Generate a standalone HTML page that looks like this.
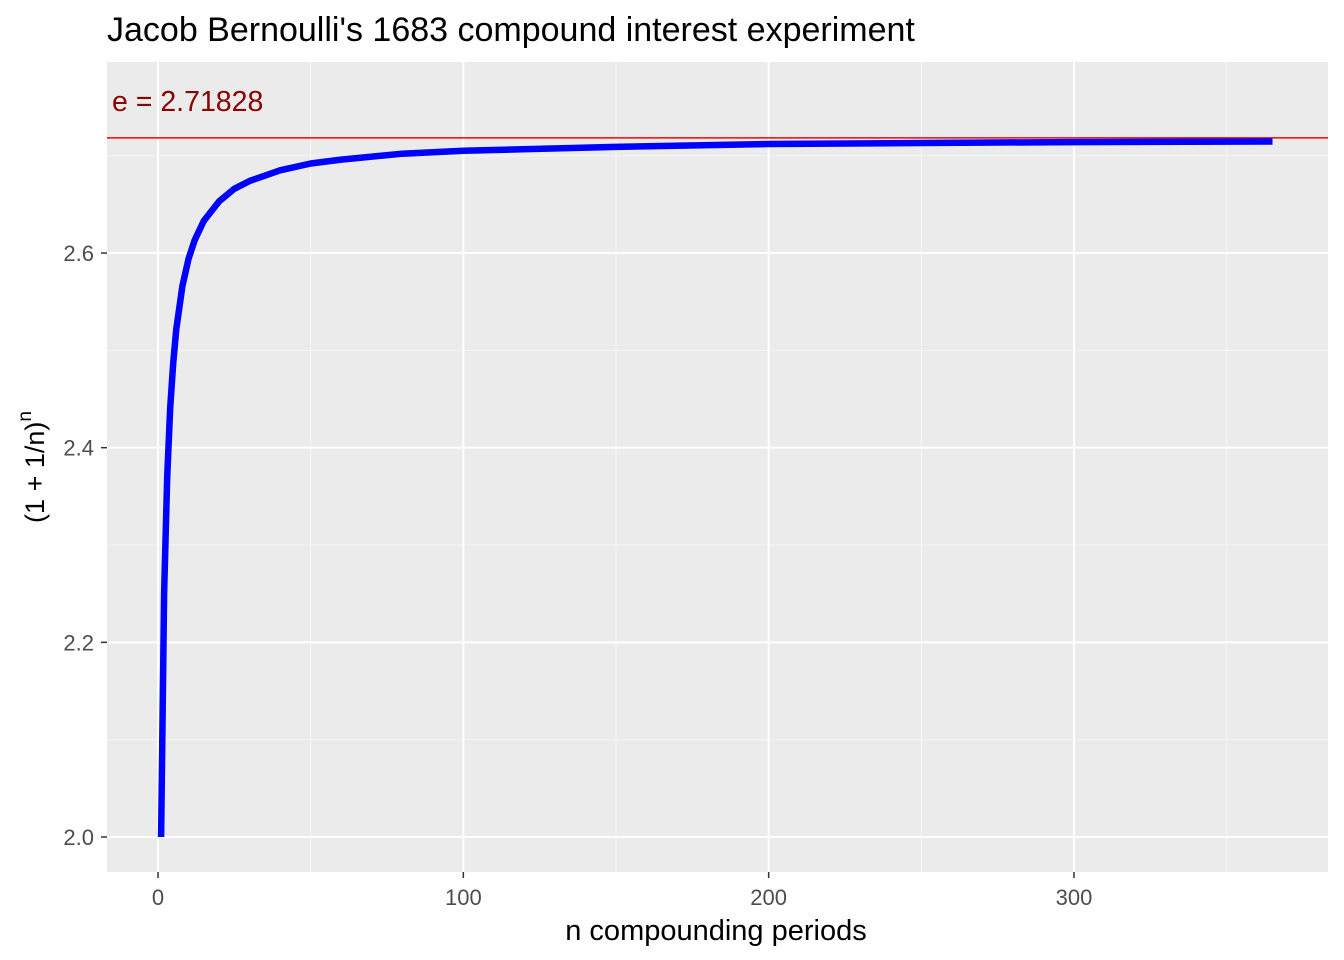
<!DOCTYPE html>
<html><head><meta charset="utf-8"><style>
body{margin:0;background:#fff}
svg{display:block;font-family:"Liberation Sans",Arial,sans-serif}
</style></head><body>
<svg id="chart" width="1344" height="960">
<text x="107" y="41" font-size="34" fill="#000">Jacob Bernoulli's 1683 compound interest experiment</text>
<rect x="107" y="62" width="1221" height="810" fill="#ebebeb"/>
<g id="grid"></g>
<g id="ticks"></g>
<line id="eline" x1="107" x2="1328" stroke="#ff0000" stroke-width="1.5"/>
<text x="112" y="111" font-size="28.5" fill="#8b0000">e = 2.71828</text>
<path id="curve" fill="none" stroke="#0000ff" stroke-width="6.5" stroke-linejoin="round"/>
<text x="716" y="940" font-size="29" text-anchor="middle" fill="#000">n compounding periods</text>
<text transform="translate(44,467) rotate(-90)" font-size="27" text-anchor="middle" fill="#000">(1 + 1/n)<tspan dy="-13" font-size="19">n</tspan></text>
</svg>
<script>
const nValues=[1,2,3,4,5,6,8,10,12,15,20,25,30,40,50,60,80,100,150,200,250,300,365];
const yValues=[2.0,2.25,2.370,2.441,2.488,2.522,2.566,2.594,2.613,2.633,2.653,2.666,2.674,2.685,2.692,2.696,2.702,2.705,2.709,2.712,2.713,2.714,2.7146];
const xTicks=[0,100,200,300];
const xMinor=[50,150,250,350];
const yTicks=[2.0,2.2,2.4,2.6];
const yMinor=[2.1,2.3,2.5,2.7];
const eValue=2.71828;
const NS='http://www.w3.org/2000/svg';
const xs=v=>158+v*3.0533;
const ys=v=>837-(v-2.0)*973.3;
const grid=document.getElementById('grid'),ticks=document.getElementById('ticks');
function ln(p,x1,y1,x2,y2,w,c){const l=document.createElementNS(NS,'line');l.setAttribute('x1',x1);l.setAttribute('y1',y1);l.setAttribute('x2',x2);l.setAttribute('y2',y2);l.setAttribute('stroke',c);l.setAttribute('stroke-width',w);p.appendChild(l);return l;}
function tx(x,y,s,a){const t=document.createElementNS(NS,'text');t.setAttribute('x',x);t.setAttribute('y',y);t.setAttribute('font-size','22');t.setAttribute('fill','#4d4d4d');t.setAttribute('text-anchor',a);t.textContent=s;ticks.appendChild(t);return t;}
xMinor.forEach(v=>{const l=ln(grid,xs(v),62,xs(v),872,1,'#f5f5f5');

});
yMinor.forEach(v=>{const l=ln(grid,107,ys(v),1328,ys(v),1,'#f5f5f5');

});
xTicks.forEach(v=>{const l=ln(grid,xs(v),62,xs(v),872,2,'#fff');


ln(ticks,xs(v),872,xs(v),878,1.5,'#333');
const t=tx(xs(v),905,String(v),'middle');

});
yTicks.forEach(v=>{const l=ln(grid,107,ys(v),1328,ys(v),2,'#fff');


ln(ticks,101,ys(v),107,ys(v),1.5,'#333');
const t=tx(94,ys(v)+8,v.toFixed(1),'end');

});
const e=document.getElementById('eline');e.setAttribute('y1',ys(eValue));e.setAttribute('y2',ys(eValue));
document.getElementById('curve').setAttribute('d',nValues.map((n,i)=>(i?'L':'M')+xs(n).toFixed(1)+','+ys(yValues[i]).toFixed(1)).join(' '));
</script>
</body></html>
